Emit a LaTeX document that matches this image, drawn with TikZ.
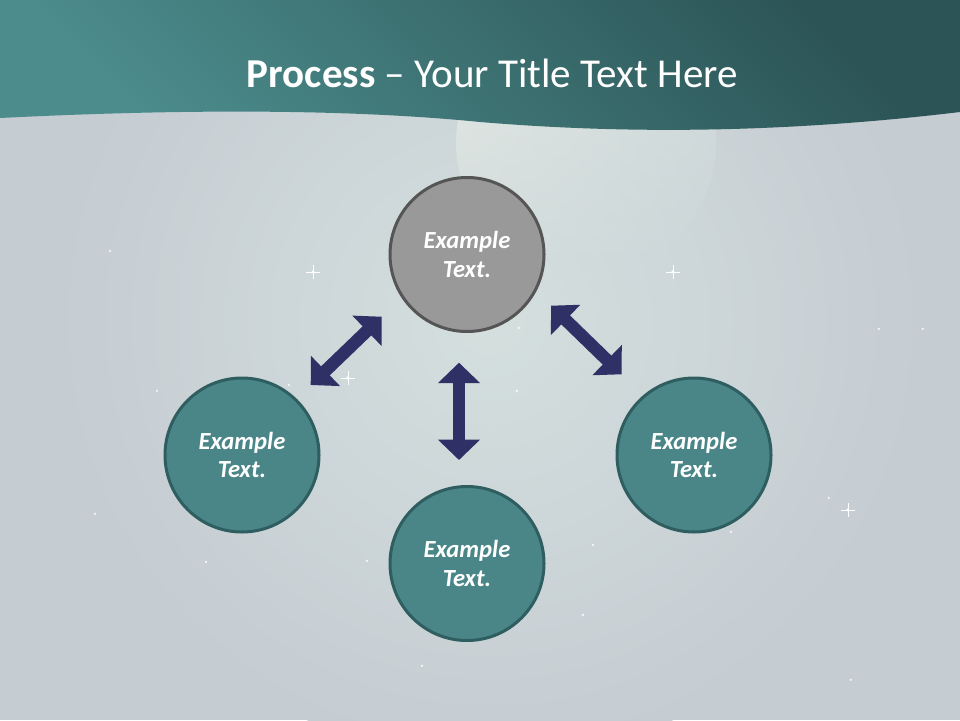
\documentclass[tikz,border=0pt]{standalone}
\usepackage{fontspec}
\setmainfont{Carlito}
\usetikzlibrary{arrows.meta,fadings}

\definecolor{tealfill}{RGB}{74,134,136}
\definecolor{tealline}{RGB}{47,94,96}
\definecolor{grayfill}{RGB}{153,153,153}
\definecolor{grayline}{RGB}{85,85,85}
\definecolor{navy}{RGB}{47,48,102}
\definecolor{skybg}{RGB}{197,204,210}
\definecolor{skyglow}{RGB}{212,223,222}
\definecolor{bandlight}{RGB}{76,140,140}
\definecolor{banddark}{RGB}{44,84,86}
\definecolor{moonlight}{RGB}{232,238,232}

\tikzfading[name=moonfade, top color=transparent!0, middle color=transparent!55, bottom color=transparent!100]

\tikzset{
  stepcirc/.style={circle, minimum size=3.85cm, inner sep=0pt, line width=0.075cm,
    text=white, align=center, font=\fontsize{17.5}{20.4}\selectfont\bfseries\itshape},
  tealcirc/.style={stepcirc, fill=tealfill, draw=tealline},
  graycirc/.style={stepcirc, fill=grayfill, draw=grayline},
  dblarrow/.style={navy, line width=0.3125cm, >={Triangle[width=1.025cm,length=0.51cm]}, <->}
}

\begin{document}
\begin{tikzpicture}
\useasboundingbox (0,0) rectangle (24,18);
% sky
\fill[skybg] (0,0) rectangle (24,18);
\shade[inner color=skyglow, outer color=skybg] (12.25,10) circle (11);
\shade[left color=moonlight, right color=skyglow, path fading=moonfade] (14.65,14.425) circle (3.25);
% stars
\begin{scope}[shift={(0,18)}, x=0.025cm, y=-0.025cm]
\foreach \x/\y in {157/391, 110/251, 206/562, 95/514, 422/666, 367/561, 289/385,
  517/391, 879/329, 923/329, 731/532, 583/615, 851/680, 829/498, 519/328, 593/545}
  \fill[white, opacity=0.8] (\x,\y) circle (1.3);
\foreach \x/\y in {313/272, 673/272, 348/378, 848/510}
{
  \fill[white] (\x,\y) circle (1.6);
  \draw[white, line width=0.4pt] (\x-7,\y) -- (\x+7,\y) (\x,\y-7) -- (\x,\y+7);
}
\end{scope}
% title band
\shade[top color=banddark, bottom color=bandlight, shading angle=-45]
  (0,18) -- (0,15.05) .. controls (5,15.3) and (9,15.25) .. (12,14.95)
  .. controls (15,14.7) and (19,14.6) .. (24,15.2) -- (24,18) -- cycle;
\node[text=white, font=\fontsize{29.2}{35}\selectfont, anchor=base] (title) at (12.31,15.82)
  {\textbf{Process} -- Your Title Text Here};

% circles
\node[graycirc] (top) at (11.675,11.6375) {Example\\Text.};
\node[tealcirc] (left) at (6.05,6.625) {Example\\Text.};
\node[tealcirc] (bottom) at (11.675,3.9125) {Example\\Text.};
\node[tealcirc] (right) at (17.35,6.625) {Example\\Text.};

% arrows
\coordinate (leftA) at (7.7675,8.375);
\coordinate (leftB) at (9.5425,10.0825);
\coordinate (midA) at (11.475,8.9325);
\coordinate (midB) at (11.475,6.5);
\coordinate (rightA) at (13.775,10.3575);
\coordinate (rightB) at (15.5425,8.6425);
\draw[dblarrow] (leftA) -- (leftB);
\draw[dblarrow] (midA) -- (midB);
\draw[dblarrow] (rightA) -- (rightB);
\end{tikzpicture}
\end{document}
